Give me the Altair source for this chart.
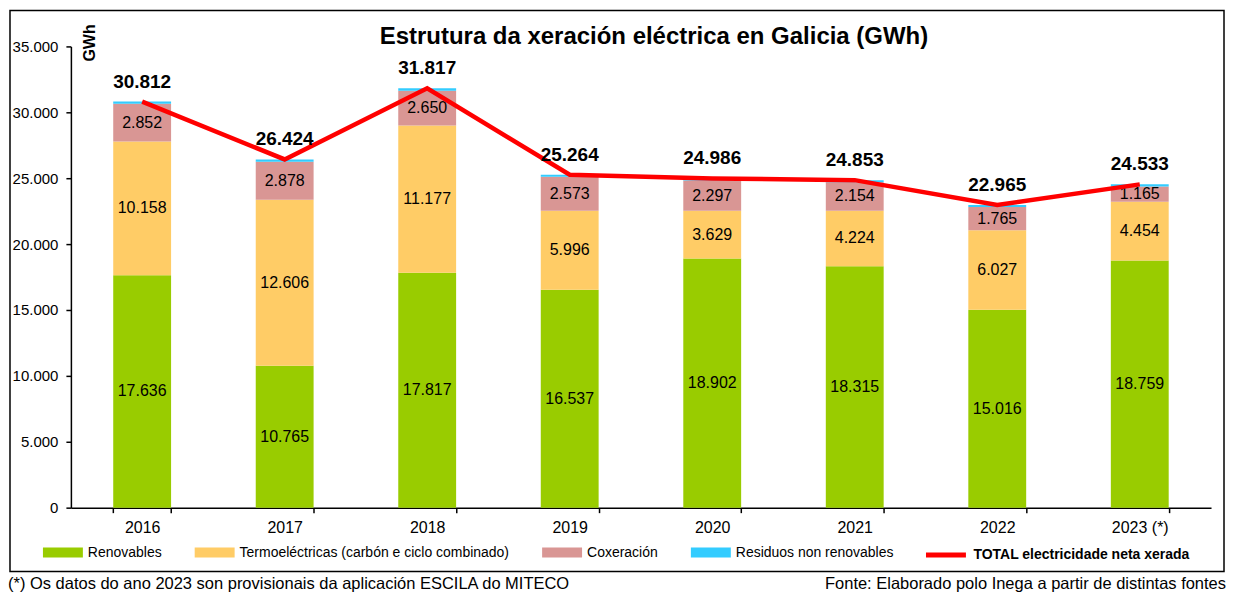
import altair as alt
import pandas as pd

FONT = "Liberation Sans"

years = ["2016", "2017", "2018", "2019", "2020", "2021", "2022", "2023 (*)"]
series = ["Renovables", "Termoeléctricas (carbón e ciclo combinado)", "Coxeración", "Residuos non renovables"]
renovables = [17636, 10765, 17817, 16537, 18902, 18315, 15016, 18759]
termoelectricas = [10158, 12606, 11177, 5996, 3629, 4224, 6027, 4454]
coxeracion = [2852, 2878, 2650, 2573, 2297, 2154, 1765, 1165]
residuos = [166, 175, 173, 158, 158, 160, 157, 155]
totals = [30812, 26424, 31817, 25264, 24986, 24853, 22965, 24533]
colors = ["#99CC00", "#FFCC66", "#D99694", "#33CCFF"]
total_label = "TOTAL electricidade neta xerada"
title_text = "Estrutura da xeración eléctrica en Galicia (GWh)"
footnote = "(*) Os datos do ano 2023 son provisionais da aplicación ESCILA do MITECO"
source = "Fonte: Elaborado polo Inega a partir de distintas fontes"
y_ticks = [0, 5000, 10000, 15000, 20000, 25000, 30000, 35000]

rows = []
for i, (name, vals) in enumerate(zip(series, [renovables, termoelectricas, coxeracion, residuos])):
    for y, v in zip(years, vals):
        rows.append({"year": y, "serie": name, "ord": i, "value": v})
df = pd.DataFrame(rows)
tdf = pd.DataFrame({"year": years, "total": totals, "serie": [total_label] * len(years)})

x_enc = alt.X(
    "year:N",
    sort=years,
    scale=alt.Scale(domain=years, paddingInner=0.594, paddingOuter=0.297),
    axis=alt.Axis(title=None, labelAngle=0, labelFontSize=16, labelPadding=7,
                  tickSize=5, tickBand="extent", domainWidth=1.5, tickWidth=1.5),
)
x_plain = alt.X("year:N", sort=years)

y_scale = alt.Scale(domain=[0, 35000], nice=False)

bars = alt.Chart(df).mark_bar().encode(
    x=x_enc,
    y=alt.Y("value:Q", stack="zero", scale=y_scale,
            axis=alt.Axis(title="GWh", titleAngle=270, titleX=19, titleY=-4,
                          titleAlign="center", titleBaseline="middle",
                          titleFontSize=16, titleFontWeight="bold",
                          format=",d", values=y_ticks, tickSize=5, labelPadding=8,
                          labelFontSize=15, grid=False, domainWidth=1.5, tickWidth=1.5)),
    color=alt.Color("serie:N", scale=alt.Scale(domain=series, range=colors),
                    legend=alt.Legend(title=None, orient="none", direction="horizontal",
                                      legendX=-28, legendY=487,
                                      symbolType="M-1,-0.25H1V0.25H-1Z", symbolSize=1600,
                                      symbolStrokeWidth=0, labelFontSize=14, labelOffset=5,
                                      labelLimit=500, columnPadding=33, padding=0)),
    order=alt.Order("ord:Q", sort="ascending"),
)

seg_labels = alt.Chart(df).transform_stack(
    stack="value", groupby=["year"], as_=["v0", "v1"],
    sort=[alt.SortField("ord", order="ascending")],
).transform_filter("datum.ord < 3").transform_calculate(
    mid="(datum.v0 + datum.v1) / 2"
).mark_text(fontSize=16, color="black").encode(
    x=x_plain,
    y=alt.Y("mid:Q", title="GWh", scale=y_scale),
    text=alt.Text("value:Q", format=",d"),
)

line = alt.Chart(tdf).mark_line(strokeWidth=4.5).encode(
    x=x_plain,
    y=alt.Y("total:Q", title="GWh", scale=y_scale),
    stroke=alt.Stroke("serie:N", scale=alt.Scale(domain=[total_label], range=["#FF0000"]),
                      legend=alt.Legend(title=None, orient="none", direction="horizontal",
                                        legendX=854, legendY=487, symbolType="stroke",
                                        symbolSize=1600, symbolStrokeWidth=5,
                                        labelFontSize=14, labelFontWeight="bold",
                                        labelOffset=5, labelLimit=500, padding=0)),
)

total_labels = alt.Chart(tdf).mark_text(
    fontSize=19, fontWeight="bold", color="black", dy=-14, baseline="alphabetic"
).encode(
    x=x_plain,
    y=alt.Y("total:Q", title="GWh", scale=y_scale),
    text=alt.Text("total:Q", format=",d"),
)

frame = alt.Chart(pd.DataFrame({"k": [0]})).mark_rect(
    fillOpacity=0, stroke="black", strokeWidth=1.5
).encode(x=alt.value(-61), x2=alt.value(1155), y=alt.value(-36), y2=alt.value(526))

title = alt.Chart(pd.DataFrame({"t": [title_text]})).mark_text(
    align="center", baseline="alphabetic", fontSize=24, fontWeight="bold", color="black"
).encode(x=alt.value(584), y=alt.value(-2), text="t:N")

foot_left = alt.Chart(pd.DataFrame({"t": [footnote]})).mark_text(
    align="left", baseline="alphabetic", fontSize=16.5, color="black"
).encode(x=alt.value(-63), y=alt.value(543), text="t:N")

foot_right = alt.Chart(pd.DataFrame({"t": [source]})).mark_text(
    align="right", baseline="alphabetic", fontSize=16.5, color="black"
).encode(x=alt.value(1157), y=alt.value(543), text="t:N")

chart = alt.layer(
    frame, bars, seg_labels, line, total_labels, title, foot_left, foot_right
).properties(
    width=1142,
    height=462,
    padding={"left": 0, "top": 1, "right": 0, "bottom": 0},
).configure(
    font=FONT,
    locale={"number": {"decimal": ",", "thousands": ".", "grouping": [3], "currency": ["", " €"]}},
).configure_view(
    stroke=None
).configure_axis(
    labelColor="black", domainColor="black", tickColor="black", titleColor="black",
    labelFont=FONT, titleFont=FONT,
).configure_legend(
    labelColor="black", labelFont=FONT,
)

chart.save("out.html", embed_options={"renderer": "svg", "actions": False})
